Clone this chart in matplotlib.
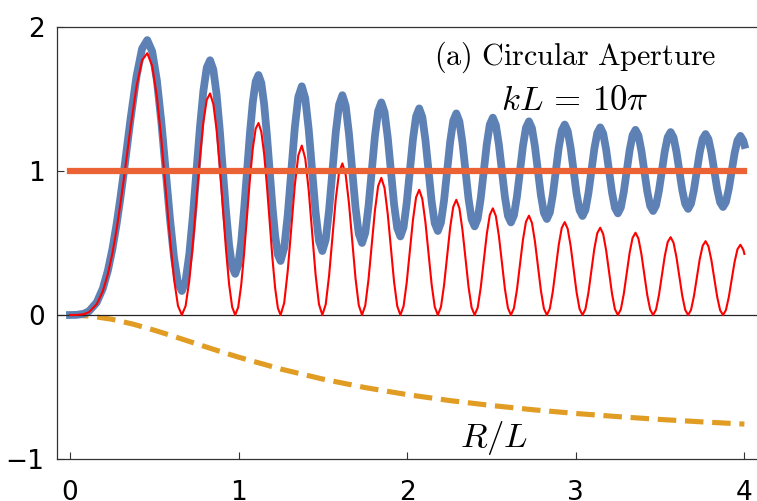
import matplotlib
matplotlib.use("Agg")
import matplotlib.pyplot as plt

plt.rcParams['mathtext.fontset'] = 'cm'
plt.rcParams['font.family'] = ['DejaVu Sans']

# ---- data ----
ratio = [0, 0.04, 0.08, 0.112,
         0.1586, 0.1946, 0.225, 0.2520, 0.2764, 0.2990, 0.3202, 0.3590, 0.3945, 0.4274, 0.4583,
         0.4875, 0.5154, 0.5421, 0.5679, 0.5928, 0.6170, 0.6404, 0.6633,
         0.6857, 0.7076, 0.7290, 0.75, 0.7707, 0.7910, 0.8110, 0.8307,
         0.8501, 0.8693, 0.8882, 0.9069, 0.9254, 0.9437, 0.9619, 0.9798,
         0.9976, 1.0152, 1.0327, 1.05, 1.0672, 1.0843, 1.1012, 1.1180,
         1.1348, 1.1514, 1.1679, 1.1843, 1.2006, 1.2168, 1.2330, 1.249,
         1.2703, 1.2914, 1.3124, 1.3333, 1.3541, 1.3748, 1.3953, 1.4158, 1.4361, 1.4564, 1.4766, 1.4967,
         1.5167, 1.5366, 1.5564, 1.5762, 1.5959, 1.6156, 1.6351, 1.6546, 1.6741, 1.6935, 1.7128, 1.7321,
         1.7513, 1.7704, 1.7896, 1.8086, 1.8276, 1.8466, 1.8656, 1.8844, 1.9033, 1.9221, 1.9409, 1.9596,
         1.9783, 1.9969, 2.0156, 2.0342, 2.0527, 2.0712, 2.0897, 2.1082, 2.1266, 2.1450, 2.1634, 2.1817,
         2.2001, 2.2184, 2.2366, 2.2549, 2.2731, 2.2913, 2.3095, 2.3276, 2.3457, 2.3639, 2.3819, 2.4,
         2.4181, 2.4361, 2.4541, 2.4721, 2.49, 2.508, 2.5259, 2.5438, 2.5617, 2.5796, 2.5975, 2.6153,
         2.6332, 2.651, 2.6688, 2.6866, 2.7044, 2.7221, 2.7399, 2.7576, 2.7753, 2.7931, 2.8107, 2.8284,
         2.8461, 2.8638, 2.8814, 2.899, 2.9167, 2.9343, 2.9519, 2.9695, 2.9871, 3.0046, 3.0222, 3.0397,
         3.0573, 3.0748, 3.0923, 3.1098, 3.1273, 3.1448, 3.1623, 3.1798, 3.1973, 3.2147, 3.2322, 3.2496,
         3.2671, 3.2845, 3.3019, 3.3193, 3.3367, 3.3541, 3.3715, 3.3889, 3.4063, 3.4236, 3.441, 3.4583,
         3.4757, 3.493, 3.5104, 3.5277, 3.545, 3.5623, 3.5796, 3.5969, 3.6142, 3.6315, 3.6488, 3.6661,
         3.6833, 3.7006, 3.7179, 3.7351, 3.7524, 3.7696, 3.7869, 3.8041, 3.8213, 3.8386, 3.8558, 3.873,
         3.8902, 3.9074, 3.9246, 3.9418, 3.959, 3.9762, 3.9934, 4.0]

total = [0, 0.0011, 0.0082, 0.0253,
         0.0875, 0.1838, 0.3101, 0.4613, 0.6312, 0.8131, 1.0, 1.3602, 1.6578, 1.8495, 1.9091,
         1.8305, 1.6285, 1.3364, 1.0, 0.6708, 0.3982, 0.2220, 0.1667,
         0.2380, 0.4228, 0.6908, 1.0, 1.3031, 1.5546, 1.7176, 1.7692,
         1.7039, 1.5337, 1.2861, 1.0, 0.7191, 0.4857, 0.3341, 0.2857,
         0.3459, 0.5038, 0.7338, 1.0, 1.2617, 1.4794, 1.6211, 1.6667,
         1.6108, 1.4637, 1.2489, 1.0, 0.7551, 0.5510, 0.4180, 0.375,
         0.4643, 0.6939, 1, 1.3, 1.5145, 1.5882, 1.5045, 1.2885, 1, 0.7170, 0.5144, 0.4444,
         0.5233, 0.7273, 1, 1.2679, 1.4598, 1.5263, 1.4518, 1.2586, 1, 0.7458, 0.5634, 0.5,
         0.5706, 0.7541, 1, 1.2419, 1.4157, 1.4762, 1.4091, 1.2344, 1, 0.7692, 0.6033, 0.5455,
         0.6093, 0.7761, 1, 1.2206, 1.3793, 1.4348, 1.3738, 1.2143, 1, 0.7887, 0.6366, 0.5833,
         0.6416, 0.7945, 1, 1.2027, 1.3487, 1.4, 1.3441, 1.1974, 1, 0.8052, 0.6648, 0.6154,
         0.6690, 0.8101, 1, 1.1875, 1.3227, 1.3704, 1.3188, 1.1829, 1, 0.8193, 0.6889, 0.6429,
         0.6925, 0.8235, 1, 1.1744, 1.3004, 1.3448, 1.2969, 1.1705, 1, 0.8315, 0.7097, 0.6667,
         0.7129, 0.8352, 1, 1.163, 1.2809, 1.3226, 1.2779, 1.1596, 1, 0.8421, 0.7279, 0.6875,
         0.7308, 0.8454, 1, 1.1531, 1.2638, 1.303, 1.2611, 1.15, 1, 0.8515, 0.744, 0.7059,
         0.7465, 0.8544, 1, 1.1442, 1.2486, 1.2857, 1.2463, 1.1415, 1, 0.8598, 0.7583, 0.7222,
         0.7605, 0.8624, 1, 1.1364, 1.2351, 1.2703, 1.233, 1.1339, 1, 0.8673, 0.7711, 0.7368,
         0.7731, 0.8696, 1, 1.1293, 1.223, 1.2564, 1.2211, 1.1271, 1, 0.874, 0.7826, 0.75,
         0.7844, 0.876, 1, 1.123, 1.2121, 1.2439, 1.2104, 1.1814]

fresnel = [0, 0.0003, 0.0050, 0.0191,
           0.0752, 0.1654, 0.2858, 0.4310, 0.5950, 0.7712, 0.9524, 1.3014, 1.5880, 1.7691, 1.8182,
           1.7293, 1.5174, 1.2155, 0.8696, 0.5310, 0.2493, 0.0641, 0.0,
           0.0628, 0.2391, 0.4988, 0.8, 1.0952, 1.3389, 1.4943, 1.5385,
           1.4658, 1.2884, 1.0338, 0.7407, 0.4531, 0.2130, 0.0549, 0.0,
           0.0539, 0.2055, 0.4294, 0.6897, 0.9454, 1.1574, 1.2934, 1.3333,
           1.2720, 1.1194, 0.8993, 0.6452, 0.3951, 0.1860, 0.0480, 0.0,
           0.0829, 0.3061, 0.6061, 0.9, 1.1085, 1.1765, 1.0870, 0.8654, 0.5714, 0.2830, 0.0751, 0,
           0.0737, 0.2727, 0.5405, 0.8036, 0.9908, 1.0526, 0.9736, 0.7759, 0.5128, 0.2542, 0.0675, 0,
           0.0664, 0.2459, 0.4878, 0.7258, 0.8957, 0.9524, 0.8816, 0.7031, 0.4651, 0.2308, 0.0614, 0,
           0.0604, 0.2239, 0.4444, 0.6618, 0.8172, 0.8696, 0.8055, 0.6429, 0.4255, 0.2113, 0.0562, 0,
           0.0554, 0.2055, 0.4082, 0.6081, 0.7514, 0.8, 0.7415, 0.5921, 0.3922, 0.1948, 0.0519, 0,
           0.0512, 0.1899, 0.3774, 0.5625, 0.6954, 0.7407, 0.6869, 0.5488, 0.3636, 0.1807, 0.0481, 0,
           0.0476, 0.1765, 0.3509, 0.5233, 0.6472, 0.6897, 0.6398, 0.5114, 0.339, 0.1685, 0.0449, 0,
           0.0444, 0.1648, 0.3279, 0.4891, 0.6052, 0.6452, 0.5987, 0.4787, 0.3175, 0.1579, 0.0421, 0,
           0.0416, 0.1546, 0.3077, 0.4592, 0.5683, 0.6061, 0.5626, 0.45, 0.2985, 0.1485, 0.0396, 0,
           0.0392, 0.1456, 0.2899, 0.4327, 0.5357, 0.5714, 0.5306, 0.4245, 0.2817, 0.1402, 0.0374, 0,
           0.037, 0.1376, 0.274, 0.4091, 0.5066, 0.5405, 0.5021, 0.4018, 0.2667, 0.1327, 0.0354, 0,
           0.0351, 0.1304, 0.2597, 0.3879, 0.4805, 0.5128, 0.4764, 0.3814, 0.2532, 0.126, 0.0336, 0,
           0.0334, 0.124, 0.2469, 0.3689, 0.457, 0.4878, 0.4533, 0.4239]

ratio_dash = [0, 0.125, 0.25, 0.375, 0.5, 0.625, 0.75, 0.875, 1.0, 1.25, 1.5, 1.75,
              2.0, 2.25, 2.5, 2.75, 3.0, 3.25, 3.5, 3.75, 4.0]
offset = [0, -0.0077, -0.0299, -0.0637, -0.1056, -0.152, -0.2, -0.2474, -0.2929,
          -0.3753, -0.4453, -0.5039, -0.5528, -0.5939, -0.6286, -0.6583, -0.6838,
          -0.7059, -0.7253, -0.7423, -0.7575]

ratio_flat = [0.0, 4.0]
flat = [1.0, 1.0]

x_ticks = [0, 1, 2, 3, 4]
y_ticks = [-1, 0, 1, 2]

# ---- figure ----
fig = plt.figure(figsize=(7.57, 5.01), dpi=100)
ax = fig.add_axes([57 / 757, 42 / 501, 700 / 757, 432 / 501])

ax.plot(ratio_dash, offset, color='#E19C24', lw=3.7, dashes=(3.6, 1.7),
        dash_capstyle='butt', zorder=2)
ax.plot(ratio, total, color='#5E81B5', lw=5.6, solid_capstyle='projecting',
        solid_joinstyle='round', zorder=3)
ax.axhline(0, color='#262626', lw=0.9, zorder=3.5)
ax.plot(ratio, fresnel, color='#FF0000', lw=1.5, solid_joinstyle='round', zorder=4)
ax.plot(ratio_flat, flat, color='#EB6235', lw=4.5, solid_capstyle='projecting', zorder=5)

ax.set_xlim(-0.0771, 4.0747)
ax.set_ylim(-1, 2)
ax.set_xticks(x_ticks)
ax.set_yticks(y_ticks)
ax.set_xticklabels([str(v) for v in x_ticks])
ax.set_yticklabels(['\u22121', '0', '1', '2'])
ax.tick_params(direction='in', length=5, width=0.8, color='#333333',
               labelsize=19, labelcolor='black')
ax.tick_params(axis='x', pad=15)
ax.tick_params(axis='y', pad=9)
for s in ['left', 'bottom', 'top']:
    ax.spines[s].set_color('#333333')
    ax.spines[s].set_linewidth(0.9)
ax.spines['right'].set_visible(False)

ax.text(2.994, 1.740, r'$\mathrm{(a)\ Circular\ Aperture}$', ha='center',
        va='baseline', fontsize=21.7)
ax.text(2.994, 1.427, r'$kL \,=\, 10\pi$', ha='center', va='baseline', fontsize=25)
ax.text(2.514, -0.919, r'$R/L$', ha='center', va='baseline', fontsize=25)

fig.savefig('out.png', dpi=100)
